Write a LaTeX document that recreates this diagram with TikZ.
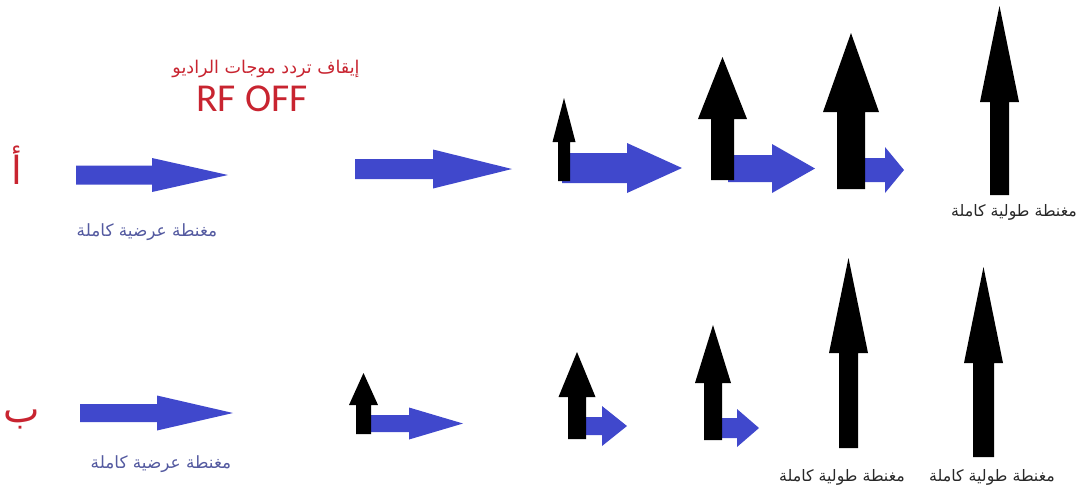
\documentclass[tikz,border=0pt]{standalone}
\usepackage{fontspec}
\setmainfont{DejaVu Sans}
\newfontfamily\arabicfont[Script=Arabic]{DejaVu Sans}
\newfontfamily\rffont{Carlito}
\TeXXeTstate=1

\definecolor{magblue}{RGB}{64,72,204}
\definecolor{magred}{RGB}{200,36,48}
\definecolor{lblblue}{RGB}{84,90,160}
\definecolor{lblgrey}{RGB}{40,40,40}

% horizontal block arrow: tail x, head x, tip x, mid y, shaft half, head half
\newcommand{\magright}[6]{%
  \fill[magblue] (#1,#4-#5) -- (#2,#4-#5) -- (#2,#4-#6) -- (#3,#4)
    -- (#2,#4+#6) -- (#2,#4+#5) -- (#1,#4+#5) -- cycle;}
% vertical block arrow: mid x, base y, head y, tip y, shaft half, head half
\newcommand{\magup}[6]{%
  \fill[black] (#1-#5,#2) -- (#1-#5,#3) -- (#1-#6,#3) -- (#1,#4)
    -- (#1+#6,#3) -- (#1+#5,#3) -- (#1+#5,#2) -- cycle;}

\begin{document}
\begin{tikzpicture}[
  x=0.02cm, y=-0.02cm,
  rowlbl/.style={text=magred, inner sep=0pt, font=\arabicfont\fontsize{22}{26}\selectfont},
  title/.style={text=magred, inner sep=0pt, font=\arabicfont\fontsize{10}{12}\selectfont},
  rfoff/.style={text=magred, inner sep=0pt, font=\rffont\fontsize{22.5}{26}\selectfont},
  trans/.style={text=lblblue, inner sep=0pt, font=\arabicfont\fontsize{9.6}{12}\selectfont},
  longi/.style={text=lblgrey, inner sep=0pt, font=\arabicfont\fontsize{9}{11}\selectfont}
]
  \useasboundingbox (0,0) rectangle (1083,495);

  % Row a: RF off, transverse decays, longitudinal recovers
  \node[rowlbl] (rowa) at (17,165) {\beginR أ\endR};
  \node[title] (rftitle) at (266,69) {\beginR إيقاف تردد موجات الراديو\endR};
  \node[rfoff] (rf) at (252,99) {RF OFF};

  \magright{76}{152}{228}{175}{9.5}{17}
  \node[trans] (transa) at (147,232) {\beginR مغنطة عرضية كاملة\endR};

  \magright{355}{433}{512}{169}{10}{19.5}

  \magright{562}{627}{682}{168}{15}{25}
  \magup{564}{181}{142}{98}{6}{11.5}

  \magright{728}{772}{815}{168.5}{13.5}{24.5}
  \magup{722.5}{180}{119}{57}{11.5}{24.5}

  \magright{858}{885}{904}{170}{12}{23}
  \magup{851}{189}{112}{33}{14}{28}

  \magup{999.5}{195}{102}{6}{9.5}{19.5}
  \node[longi] (longa) at (1014,212) {\beginR مغنطة طولية كاملة\endR};

  % Row b
  \node[rowlbl] (rowb) at (22,419) {\beginR ب\endR};

  \magright{80}{157}{233}{413}{9}{17.5}
  \node[trans] (transb) at (161,464) {\beginR مغنطة عرضية كاملة\endR};

  \magright{368}{409}{463}{423.5}{8.5}{16}
  \magup{363.5}{434}{405}{373}{7.5}{14.5}

  \magright{583}{602}{627}{426}{9}{20}
  \magup{577}{439}{397}{352}{9}{18.5}

  \magright{719}{737}{759}{428}{10}{19}
  \magup{713}{440}{383}{325}{9}{18}

  \magup{848.5}{448}{353}{258}{9.5}{19.5}
  \node[longi] (longb) at (842,477) {\beginR مغنطة طولية كاملة\endR};

  \magup{983.5}{457}{363}{267}{10.5}{19.5}
  \node[longi] (longc) at (992,477) {\beginR مغنطة طولية كاملة\endR};

\end{tikzpicture}
\end{document}
